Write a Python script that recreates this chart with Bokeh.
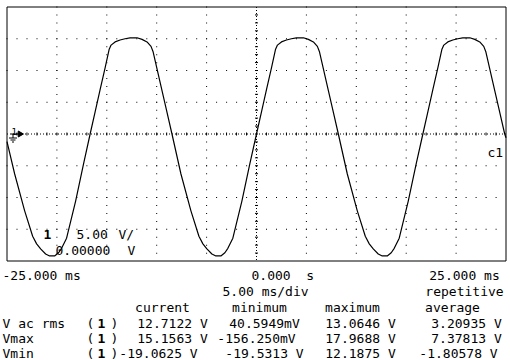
from bokeh.plotting import figure
from bokeh.models import Range1d
from bokeh.core.properties import value
from bokeh.embed import file_html
from bokeh.resources import INLINE

t_ms = [-25.0, -24.23, -23.23, -22.43, -22.03, -21.63, -21.13, -20.73, -20.23, -19.83, -19.53, -19.03, -18.13, -17.33, -16.67,
        -16.17, -15.67, -15.17, -14.77, -14.57, -14.17, -13.67, -13.17, -12.67, -11.97, -11.47, -10.97, -10.57, -10.37, -9.67, -9.07, -8.47,
        -7.57, -6.57, -5.77, -5.37, -4.97, -4.47, -4.07, -3.57, -3.17, -2.87, -2.37, -1.47, -0.67,
        0.0, 0.5, 1.0, 1.5, 1.9, 2.1, 2.5, 3.0, 3.5, 4.0, 4.7, 5.2, 5.7, 6.1, 6.3, 7.0, 7.6, 8.2,
        9.1, 10.1, 10.9, 11.3, 11.7, 12.2, 12.6, 13.1, 13.5, 13.8, 14.3, 15.2, 16.0,
        16.67, 17.17, 17.67, 18.17, 18.57, 18.77, 19.17, 19.67, 20.17, 20.67, 21.37, 21.87, 22.37, 22.77, 22.97, 23.67, 24.27, 24.87, 25.0]
volts = [-1.2, -6.3, -12.1, -16.1, -17.3, -18.1, -18.9, -19.2, -19.2, -18.7, -18.0, -16.4, -10.6, -4.7, 0.0,
         3.5, 7.0, 10.4, 13.3, 14.0, 14.5, 14.8, 15.0, 15.15, 15.15, 14.9, 14.5, 13.8, 13.0, 8.2, 4.1, 0.0,
         -6.3, -12.1, -16.1, -17.3, -18.1, -18.9, -19.2, -19.2, -18.7, -18.0, -16.4, -10.6, -4.7,
         0.0, 3.5, 7.0, 10.4, 13.3, 14.0, 14.5, 14.8, 15.0, 15.15, 15.15, 14.9, 14.5, 13.8, 13.0, 8.2, 4.1, 0.0,
         -6.3, -12.1, -16.1, -17.3, -18.1, -18.9, -19.2, -19.2, -18.7, -18.0, -16.4, -10.6, -4.7,
         0.0, 3.5, 7.0, 10.4, 13.3, 14.0, 14.5, 14.8, 15.0, 15.15, 15.15, 14.9, 14.5, 13.8, 13.0, 8.2, 4.1, 0.0, -0.6]

NB = "\u00a0"
time_labels = ["-25.000 ms", "0.000" + NB + NB + "s", "25.000 ms"]
timebase_label = "5.00 ms/div"
acq_mode = "repetitive"
col_headers = ["current", "minimum", "maximum", "average"]
meas_names = ["V ac rms", "Vmax", "Vmin"]
meas_current = ["12.7122 V", "15.1563 V", "-19.0625 V"]
meas_minimum = ["40.5949mV", "-156.250mV", "-19.5313 V"]
meas_maximum = ["13.0646 V", "17.9688 V", "12.1875 V"]
meas_average = ["3.20935 V", "7.37813 V", "-1.80578 V"]
channel = "1"
scale_value = "5.00"
scale_unit = "V/"
offset_value = "0.00000"
offset_unit = "V"
trace_name = "c1"

T_MIN, T_MAX, T_DIV = -25.0, 25.0, 5.0
V_MIN, V_MAX, V_DIV = -20.0, 20.0, 5.0

# ---------------- geometry ----------------
W, H = 510, 360
PX_MS = 9.98
PX_V = 6.35


def tx(rx):
    return T_MIN + (rx - 6.0) / PX_MS


def vy(ry):
    return V_MAX - (ry - 6.0) / PX_V


xs0 = T_MIN - 6.5 / PX_MS
ys1 = V_MAX + 6.5 / PX_V
p = figure(width=W, height=H,
           x_range=Range1d(xs0, xs0 + W / PX_MS),
           y_range=Range1d(ys1 - H / PX_V, ys1),
           output_backend="svg", toolbar_location=None,
           x_axis_location=None, y_axis_location=None,
           min_border=0, outline_line_color=None,
           background_fill_color="white", border_fill_color="white")
p.xgrid.visible = False
p.ygrid.visible = False

ink = "black"
half_px = 0.5 / PX_MS

# horizontal dotted division lines
hx0, hx1, hy = [], [], []
for j in range(1, 8):
    v = V_MAX - j * V_DIV
    if abs(v) < 1e-9:
        continue
    for k in range(10):
        hx0.append(T_MIN + k * T_DIV - half_px)
        hx1.append(T_MIN + (k + 1) * T_DIV - half_px)
        hy.append(v)
p.segment(x0=hx0, y0=hy, x1=hx1, y1=hy, line_color=ink, line_width=1, line_dash="1 9")

# vertical dotted division lines
vx, vy0, vy1 = [], [], []
for k in range(1, 10):
    t = T_MIN + k * T_DIV
    if abs(t) < 1e-9:
        continue
    for j in range(8):
        vx.append(t)
        vy0.append(V_MAX - j * V_DIV + 0.5 / PX_V)
        vy1.append(V_MAX - (j + 1) * V_DIV + 0.5 / PX_V)
p.segment(x0=vx, y0=vy0, x1=vx, y1=vy1, line_color=ink, line_width=1, line_dash="1 7")

# centre axes (denser dots + minor ticks)
p.segment(x0=[T_MIN], y0=[0], x1=[T_MAX], y1=[0], line_color=ink, line_width=1, line_dash="1 2")
p.segment(x0=[0], y0=[V_MAX], x1=[0], y1=[V_MIN], line_color=ink, line_width=1, line_dash="1 2")
tk = 1.5
mx = [T_MIN + i * 1.0 for i in range(1, 50)]
p.segment(x0=mx, y0=[tk / PX_V] * len(mx), x1=mx, y1=[-tk / PX_V] * len(mx), line_color=ink, line_width=1)
my = [V_MIN + i * 1.25 for i in range(1, 32)]
p.segment(x0=[-tk / PX_MS] * len(my), y0=my, x1=[tk / PX_MS] * len(my), y1=my, line_color=ink, line_width=1)

# screen border
p.line([T_MIN, T_MAX, T_MAX, T_MIN, T_MIN], [V_MAX, V_MAX, V_MIN, V_MIN, V_MAX], line_color=ink, line_width=1)

# waveform
p.line(t_ms, volts, line_color=ink, line_width=1.2)

# channel ground marker at left
p.segment(x0=[tx(10)], y0=[0], x1=[tx(18)], y1=[0], line_color=ink, line_width=1)
p.scatter([tx(19)], [0], marker="triangle", angle=-1.5708, size=6, fill_color=ink, line_color=ink)
p.segment(x0=[tx(12)], y0=[0], x1=[tx(12)], y1=[vy(137)], line_color=ink, line_width=1)
p.segment(x0=[tx(8), tx(9.5), tx(11)], y0=[vy(137), vy(139), vy(141)],
          x1=[tx(16), tx(14.5), tx(13)], y1=[vy(137), vy(139), vy(141)], line_color=ink, line_width=1)

FONT = value("DejaVu Sans Mono")
FS = "13px"


def put(items, bold=False, size=FS, align="left"):
    xs = [tx(rx - 0.5) for rx, ry, s in items]
    ys = [vy(ry + 0.5) for rx, ry, s in items]
    ts = [s for rx, ry, s in items]
    p.text(x=xs, y=ys, text=ts, text_font=FONT, text_font_size=size,
           text_font_style="bold" if bold else "normal",
           text_baseline="alphabetic", text_align=align, text_color=ink)


left_items = []
center_items = []
bold = []
# time axis rows
left_items += [(2, 274, time_labels[0]), (251, 274, time_labels[1])]
center_items += [(464, 274, time_labels[2])]
left_items += [(222, 290, timebase_label)]
center_items += [(464, 290, acq_mode)]
center_items += [(162, 306, col_headers[0]), (259, 306, col_headers[1]),
                 (352, 306, col_headers[2]), (452, 306, col_headers[3])]
rows_y = [322, 337, 352]
cur_c = [172, 172, 158]
min_c = [264, 256, 264]
avg_c = [466, 466, 458]
for i in range(3):
    ry = rows_y[i]
    left_items += [(2, ry, meas_names[i]), (86, ry, "("), (110, ry, ")")]
    center_items += [(cur_c[i], ry, meas_current[i]), (min_c[i], ry, meas_minimum[i]),
                     (360, ry, meas_maximum[i]), (avg_c[i], ry, meas_average[i])]
    bold += [(97, ry, channel)]
left_items += [(76, 233, scale_value), (118, 233, scale_unit),
               (55, 249, offset_value), (127, 249, offset_unit), (487, 151, trace_name)]
bold += [(43, 233, channel)]
put(left_items)
put(center_items, align="center")
put(bold, bold=True)
put([(11, 130, channel)], size="9px")

open("out.html", "w").write(file_html(p, INLINE))
